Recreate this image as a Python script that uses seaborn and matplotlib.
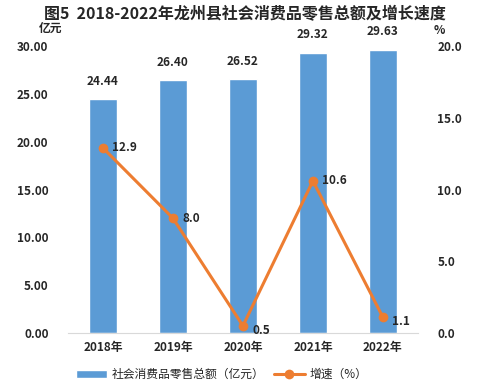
import numpy as np
import pandas as pd
import matplotlib
matplotlib.use("Agg")
import matplotlib.pyplot as plt
import seaborn as sns

years = ["2018年", "2019年", "2020年", "2021年", "2022年"]
sales = [24.44, 26.40, 26.52, 29.32, 29.63]
growth = [12.9, 8.0, 0.5, 10.6, 1.1]

sns.set_style("white")
plt.rcParams['font.family'] = ['Noto Sans CJK SC', 'DejaVu Sans']

blue = "#5B9BD5"
orange = "#ED7D31"

fig = plt.figure(figsize=(4.82, 3.92), dpi=100)
ax = fig.add_axes([0.141, 0.1505, 0.726, 0.732])

df = pd.DataFrame({"year": years, "sales": sales, "growth": growth})
sns.barplot(data=df, x="year", y="sales", color=blue, width=0.4, ax=ax,
            saturation=1, label="社会消费品零售总额（亿元）")
if ax.get_legend() is not None:
    ax.get_legend().remove()
ax.set_ylim(0, 30)
ax.set_yticks(np.arange(0, 31, 5))
ax.set_yticklabels([f"{v:.2f}" for v in np.arange(0, 31, 5)], fontsize=8.5, fontweight="bold")
ax.set_xlabel("")
ax.set_ylabel("")
for i, v in enumerate(sales):
    ax.text(i, v + 1.2, f"{v:.2f}", ha="center", va="bottom", fontsize=8.5, fontweight="bold")

ax2 = ax.twinx()
x = np.arange(len(years))
sns.lineplot(x=x, y=growth, ax=ax2, color=orange, linewidth=2.2, marker="o",
             markersize=7, markeredgewidth=0, label="增速（%）", legend=False)
ax2.set_ylim(0, 20)
ax2.set_yticks(np.arange(0, 21, 5))
ax2.set_yticklabels([f"{v:.1f}" for v in np.arange(0, 21, 5)], fontsize=8.5, fontweight="bold")
for i, v in enumerate(growth):
    dy = -0.3 if v < 2 else 0
    ax2.text(i + 0.13, v + dy, f"{v:.1f}", ha="left", va="center", fontsize=8.5, fontweight="bold")

ax.set_xlim(-0.5, 4.5)
ax.set_xticks(x)
ax.set_xticklabels(years, fontsize=8.5, fontweight="bold")
for a in (ax, ax2):
    for s in a.spines.values():
        s.set_visible(False)
    a.tick_params(length=0)
ax.spines["bottom"].set_visible(True)
ax.spines["bottom"].set_color("#D9D9D9")
ax.tick_params(axis="y", pad=14)
ax2.tick_params(axis="y", pad=14)
ax.tick_params(axis="x", pad=6)

fig.text(0.508, 0.964, "图5  2018-2022年龙州县社会消费品零售总额及增长速度",
         ha="center", va="center", fontsize=11.5, fontweight="bold")
fig.text(0.104, 0.928, "亿元", ha="center", va="center", fontsize=8.5, fontweight="bold")
fig.text(0.912, 0.922, "%", ha="center", va="center", fontsize=8.5, fontweight="bold")

h1, l1 = ax.get_legend_handles_labels()
h2, l2 = ax2.get_legend_handles_labels()
fig.legend(h1 + h2, l1 + l2, loc="center", bbox_to_anchor=(0.46, 0.045), ncol=2,
           frameon=False, fontsize=8.5, handlelength=2.6, columnspacing=0.8, handletextpad=0.4)

fig.savefig("out.png", dpi=100)
